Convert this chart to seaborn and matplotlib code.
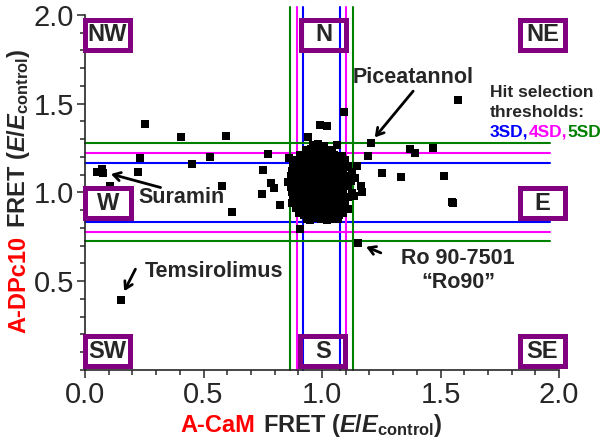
import matplotlib
matplotlib.use("Agg")
import matplotlib.pyplot as plt
from matplotlib.patches import Rectangle
from matplotlib.ticker import MultipleLocator
import pandas as pd
import seaborn as sns

# compounds outside the main cluster: A-CaM FRET (x), A-DPc10 FRET (y)
outlier_x = [0.253, 0.404, 0.594, 0.232, 0.527, 0.774, 0.450, 0.225, 0.049, 0.073,
             0.077, 0.105, 0.577, 0.622, 0.752, 0.785, 0.799, 0.748, 0.823, 0.907,
             1.573, 1.207, 1.196, 1.371, 1.392, 1.467, 1.255, 1.333, 1.514, 1.554,
             1.548, 1.094, 0.992, 1.020, 0.942, 1.062, 1.149, 0.152, 1.153, 1.140,
             1.165, 1.168, 1.137, 0.862]
outlier_y = [1.386, 1.311, 1.320, 1.196, 1.202, 1.217, 1.161, 1.117, 1.117, 1.135,
             1.108, 1.037, 1.037, 0.892, 1.127, 1.055, 1.024, 0.990, 0.930, 0.793,
             1.521, 1.277, 1.206, 1.243, 1.221, 1.252, 1.108, 1.089, 1.093, 0.939,
             0.946, 1.452, 1.380, 1.376, 1.314, 1.268, 1.151, 0.394, 0.717, 1.080,
             1.035, 1.002, 0.982, 1.192]

# inactive compounds around (1, 1)
cluster_x = [0.962, 0.985, 1.008,
             0.932, 0.955, 0.978, 1.003, 1.027, 1.040,
             0.905, 0.928, 0.951, 0.976, 1.000, 1.024, 1.049, 1.085,
             0.876, 0.912, 0.936, 0.960, 0.985, 1.010, 1.034, 1.058, 1.083, 1.098,
             0.878, 0.902, 0.926, 0.950, 0.975, 0.999, 1.023, 1.047, 1.071, 1.095, 1.108,
             0.872, 0.896, 0.921, 0.945, 0.969, 0.993, 1.018, 1.042, 1.066, 1.090, 1.128,
             0.870, 0.893, 0.917, 0.942, 0.966, 0.990, 1.014, 1.039, 1.063, 1.087, 1.115,
             0.858, 0.889, 0.913, 0.938, 0.962, 0.986, 1.011, 1.035, 1.059, 1.083, 1.107, 1.124,
             0.869, 0.892, 0.916, 0.941, 0.965, 0.989, 1.013, 1.037, 1.062, 1.086, 1.110,
             0.872, 0.895, 0.919, 0.944, 0.968, 0.992, 1.016, 1.040, 1.065, 1.089, 1.126,
             0.876, 0.899, 0.923, 0.947, 0.971, 0.995, 1.019, 1.044, 1.068, 1.092, 1.111,
             0.872, 0.905, 0.929, 0.953, 0.977, 1.001, 1.026, 1.050, 1.074, 1.098,
             0.890, 0.913, 0.937, 0.961, 0.985, 1.009, 1.034, 1.058, 1.082, 1.108,
             0.902, 0.926, 0.950, 0.974, 0.998, 1.022, 1.046, 1.070, 1.088,
             0.935, 0.949, 0.973, 0.997, 1.021, 1.045, 1.066]
cluster_y = [1.268, 1.275, 1.262,
             1.238, 1.245, 1.236, 1.242, 1.233, 1.240,
             1.212, 1.205, 1.214, 1.208, 1.216, 1.203, 1.211, 1.206,
             1.182, 1.176, 1.185, 1.179, 1.183, 1.174, 1.181, 1.186, 1.177, 1.184,
             1.152, 1.146, 1.155, 1.149, 1.144, 1.153, 1.147, 1.156, 1.150, 1.145, 1.152,
             1.121, 1.115, 1.124, 1.118, 1.126, 1.117, 1.122, 1.114, 1.123, 1.119, 1.116,
             1.092, 1.086, 1.095, 1.089, 1.084, 1.093, 1.087, 1.096, 1.090, 1.085, 1.094,
             1.061, 1.055, 1.064, 1.058, 1.066, 1.057, 1.062, 1.054, 1.063, 1.059, 1.056, 1.065,
             1.032, 1.026, 1.035, 1.029, 1.024, 1.033, 1.027, 1.036, 1.030, 1.025, 1.034,
             1.001, 0.995, 1.004, 0.998, 1.006, 0.997, 1.002, 0.994, 1.003, 0.999, 0.996,
             0.972, 0.966, 0.975, 0.969, 0.964, 0.973, 0.967, 0.976, 0.970, 0.965, 0.974,
             0.942, 0.936, 0.945, 0.939, 0.946, 0.937, 0.943, 0.935, 0.944, 0.940,
             0.912, 0.906, 0.915, 0.909, 0.904, 0.913, 0.907, 0.916, 0.910, 0.905,
             0.882, 0.876, 0.885, 0.879, 0.886, 0.877, 0.883, 0.875, 0.884,
             0.852, 0.846, 0.855, 0.849, 0.844, 0.853, 0.848]

# hit selection thresholds
sd_names = ["3SD,", "4SD,", "5SD"]
sd_colors = ["#0000FF", "#FF00FF", "#008000"]
x_lo = [0.921, 0.896, 0.865]
x_hi = [1.076, 1.101, 1.132]
y_lo = [0.832, 0.779, 0.729]
y_hi = [1.168, 1.220, 1.277]

# sector boxes
box_labels = ["NW", "N", "NE", "W", "E", "SW", "S", "SE"]
box_x = [0.095, 1.006, 1.930, 0.097, 1.930, 0.095, 1.004, 1.930]
box_y = [1.890, 1.890, 1.890, 0.939, 0.939, 0.106, 0.106, 0.106]

df = pd.DataFrame({"acam": outlier_x + cluster_x, "dpc10": outlier_y + cluster_y})

sns.set_style("ticks")
plt.rcParams["font.family"] = ["Liberation Sans", "DejaVu Sans"]
plt.rcParams["mathtext.fontset"] = "custom"
plt.rcParams["mathtext.rm"] = "Liberation Sans:bold"
plt.rcParams["mathtext.bf"] = "Liberation Sans:bold"
plt.rcParams["mathtext.it"] = "Liberation Sans:italic:bold"

fig = plt.figure(figsize=(6, 4.42), dpi=100)
ax = fig.add_axes([0.1417, 0.1629, 0.79, 0.8032])

# threshold lines
for c, a, b, lo, hi in zip(sd_colors, x_lo, x_hi, y_lo, y_hi):
    for v in (a, b):
        ax.plot([v, v], [0, 2.045], color=c, lw=1.5, zorder=2, clip_on=False)
    for v in (lo, hi):
        ax.plot([0, 1.96], [v, v], color=c, lw=1.5, zorder=2, clip_on=False)

sns.scatterplot(data=df, x="acam", y="dpc10", marker="s", s=28, color="black",
                linewidth=0, ax=ax, zorder=3, clip_on=False)

for lab, bx, by in zip(box_labels, box_x, box_y):
    ax.add_patch(Rectangle((bx - 0.095, by - 0.0845), 0.19, 0.169, facecolor="white",
                           edgecolor="none", zorder=1, clip_on=False))
    ax.add_patch(Rectangle((bx - 0.095, by - 0.0845), 0.19, 0.169, facecolor="none",
                           edgecolor="#800080", lw=3.6, zorder=4, clip_on=False))
    ax.text(bx, by, lab, ha="center", va="center", fontsize=17, fontweight="bold",
            zorder=5, clip_on=False)

# labelled hits
arrow = dict(arrowstyle="->, head_length=0.5, head_width=0.3", color="black", lw=2)
ax.annotate("", xy=(1.215, 1.298), xytext=(1.392, 1.583), arrowprops=arrow)
ax.annotate("", xy=(0.098, 1.108), xytext=(0.330, 1.024), arrowprops=arrow)
ax.annotate("", xy=(0.160, 0.430), xytext=(0.218, 0.582), arrowprops=arrow)
ax.annotate("", xy=(1.175, 0.700), xytext=(1.259, 0.654), arrowprops=arrow)
tk = dict(fontsize=15.5, fontweight="bold", va="baseline")
ax.text(1.13, 1.615, "Piceatannol", ha="left", **tk)
ax.text(0.225, 0.939, "Suramin", ha="left", **tk)
ax.text(0.253, 0.526, "Temsirolimus", ha="left", **tk)
ax.text(1.575, 0.595, "Ro 90-7501", ha="center", **tk)
ax.text(1.577, 0.462, "\u201cRo90\u201d", ha="center", **tk)

# threshold legend
ax.text(1.709, 1.538, "Hit selection", fontsize=12.5, fontweight="bold", va="baseline")
ax.text(1.709, 1.425, "thresholds:", fontsize=12.5, fontweight="bold", va="baseline")
prev = ax.text(1.709, 1.315, sd_names[0], color=sd_colors[0], fontsize=12.5,
               fontweight="bold", va="baseline")
for name, c in zip(sd_names[1:], sd_colors[1:]):
    prev = ax.annotate(name, xy=(1, 1.315), xycoords=(prev, ax.transData), color=c,
                       fontsize=12.5, fontweight="bold", va="baseline", ha="left")

ax.set_xlim(0, 2.0)
ax.set_ylim(0, 2.0)
ax.xaxis.set_major_locator(MultipleLocator(0.5))
ax.yaxis.set_major_locator(MultipleLocator(0.5))
ax.xaxis.set_minor_locator(MultipleLocator(0.1))
ax.yaxis.set_minor_locator(MultipleLocator(0.1))
ax.tick_params(which="major", length=6, width=1.1, labelsize=21, direction="out", pad=2)
ax.tick_params(which="minor", length=3.5, width=1.1, direction="out")
ax.set_yticks([0.5, 1.0, 1.5, 2.0])
ax.set_xlabel("")
ax.set_ylabel("")
sns.despine(ax=ax)
for s in ("left", "bottom"):
    ax.spines[s].set_linewidth(1.2)

# axis titles with coloured construct names
xl = fig.text(0.30, 0.0233, "A-CaM", color="red", fontsize=17, fontweight="bold",
              ha="left", va="baseline")
ax.annotate(r"FRET ($E/E_{\mathrm{control}}$)", xy=(1, 0.0233),
            xycoords=(xl, fig.transFigure), xytext=(6, 0), textcoords="offset points",
            fontsize=17, fontweight="bold", ha="left", va="baseline")
yl = fig.text(0.0417, 0.2466, "A-DPc10", color="red", fontsize=17, fontweight="bold",
              rotation=90, rotation_mode="anchor", ha="left", va="baseline")
ax.annotate(r"FRET ($E/E_{\mathrm{control}}$)", xy=(0.0417, 1),
            xycoords=(fig.transFigure, yl), xytext=(0, 6), textcoords="offset points",
            fontsize=17, fontweight="bold", rotation=90, rotation_mode="anchor",
            ha="left", va="baseline")

fig.savefig("out.png", dpi=100)
